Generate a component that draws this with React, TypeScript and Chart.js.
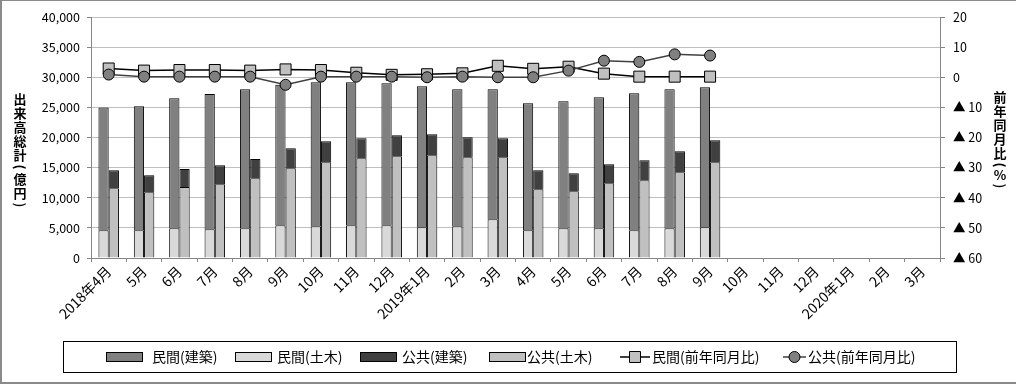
import React, { useEffect, useRef } from 'react';
import { Chart, registerables } from 'chart.js';

Chart.register(...registerables);

const FONT = '"Noto Sans CJK JP", "Noto Sans", sans-serif';

const months = [
  '2018年4月', '5月', '6月', '7月', '8月', '9月', '10月', '11月', '12月',
  '2019年1月', '2月', '3月', '4月', '5月', '6月', '7月', '8月', '9月',
  '10月', '11月', '12月', '2020年1月', '2月', '3月',
];

// 億円
const minkanKenchiku = [20400, 20580, 21570, 22460, 23070, 23350, 23900, 23740, 23580, 23410, 22740, 21580, 21080, 21080, 21750, 22740, 23070, 23250];
const minkanDoboku = [4600, 4600, 4930, 4760, 4930, 5420, 5260, 5420, 5420, 5090, 5260, 6420, 4600, 4930, 4930, 4600, 4930, 5090];
const kokyoKenchiku = [2990, 2820, 2980, 3150, 3210, 3320, 3490, 3330, 3490, 3480, 3320, 3160, 3160, 2990, 3150, 3310, 3480, 3660];
const kokyoDoboku = [11570, 10900, 11790, 12230, 13220, 14890, 15880, 16540, 16880, 17050, 16710, 16710, 11400, 11070, 12400, 12900, 14230, 15880];

// 前年同月比 (%)
const minkanYoY = [2.9, 2.2, 2.4, 2.4, 2.2, 2.6, 2.4, 1.5, 0.8, 1.0, 1.3, 3.8, 2.8, 3.5, 1.2, 0.2, 0.2, 0.2];
const kokyoYoY = [0.9, 0.2, 0.2, 0.2, 0.2, -2.5, 0.2, 0.2, 0.2, 0.0, 0.2, 0.0, 0.0, 2.2, 5.5, 5.1, 7.6, 7.2];

const leftTicks = [0, 5000, 10000, 15000, 20000, 25000, 30000, 35000, 40000];
const rightTicks = [-60, -50, -40, -30, -20, -10, 0, 10, 20];

const leftTitle = ['出', '来', '高', '総', '計', '(', '億', '円', ')'];
const rightTitle = ['前', '年', '同', '月', '比', '(', '%', ')'];

const GRID = '#bfbfbf';
const AXIS = '#868686';

const framePlugin = {
  id: 'frame',
  beforeDraw(chart: any) {
    const { ctx, width, height } = chart;
    ctx.save();
    ctx.fillStyle = '#fff';
    ctx.fillRect(0, 0, width, height);
    ctx.fillStyle = '#8a8a8a';
    ctx.fillRect(0, 0, width, 1);
    ctx.fillRect(0, 0, 2, height);
    ctx.fillRect(0, height - 2, width, 2);
    ctx.restore();
  },
};

function drawVertical(ctx: CanvasRenderingContext2D, chars: string[], x: number, y0: number) {
  const size = (c: string) => (c === '(' || c === ')' ? 10 : c === '%' ? 11 : 14);
  let y = y0;
  chars.forEach((c, i) => {
    if (i > 0) y += (size(c) + size(chars[i - 1])) / 2;
    if (c === '(' || c === ')') {
      ctx.save();
      ctx.translate(x, y);
      ctx.rotate(Math.PI / 2);
      ctx.fillText(c, 0, 0);
      ctx.restore();
    } else {
      ctx.fillText(c, x, y);
    }
  });
}

const titlesPlugin = {
  id: 'vtitles',
  afterDraw(chart: any) {
    const { ctx } = chart;
    ctx.save();
    ctx.fillStyle = '#000';
    ctx.font = `bold 13px ${FONT}`;
    ctx.textAlign = 'center';
    ctx.textBaseline = 'middle';
    drawVertical(ctx, leftTitle, 20, 99);
    drawVertical(ctx, rightTitle, 1000, 97);
    ctx.restore();
  },
};

const legendPlugin = {
  id: 'boxLegend',
  afterDraw(chart: any) {
    const { ctx } = chart;
    const ds = chart.data.datasets;
    const find = (l: string) => ds.find((d: any) => d.label === l);
    const items = [
      { label: '民間(建築)', kind: 'box', x: 106, tx: 152 },
      { label: '民間(土木)', kind: 'box', x: 235, tx: 277 },
      { label: '公共(建築)', kind: 'box', x: 360, tx: 402 },
      { label: '公共(土木)', kind: 'box', x: 489, tx: 527 },
      { label: '民間(前年同月比)', kind: 'line', x: 620, tx: 652 },
      { label: '公共(前年同月比)', kind: 'line', x: 783, tx: 808 },
    ];
    ctx.save();
    ctx.strokeStyle = '#000';
    ctx.lineWidth = 1;
    ctx.strokeRect(63.5, 341.5, 893, 31);
    const cy = 357;
    items.forEach((it) => {
      const d = find(it.label);
      if (it.kind === 'box') {
        ctx.fillStyle = d.backgroundColor;
        ctx.fillRect(it.x + 0.5, 352.5, 36, 9);
        ctx.strokeStyle = '#000';
        ctx.strokeRect(it.x + 0.5, 352.5, 36, 9);
      } else {
        const w = it.tx - it.x - 2;
        ctx.strokeStyle = d.borderColor;
        ctx.lineWidth = 1.5;
        ctx.beginPath();
        ctx.moveTo(it.x, cy);
        ctx.lineTo(it.x + w, cy);
        ctx.stroke();
        ctx.lineWidth = 1;
        ctx.fillStyle = d.pointBackgroundColor;
        ctx.strokeStyle = '#000';
        const mx = it.x + w / 2;
        ctx.beginPath();
        if (d.pointStyle === 'rect') {
          ctx.rect(mx - 5.5, cy - 5.5, 11, 11);
        } else {
          ctx.arc(mx, cy, 5.5, 0, Math.PI * 2);
        }
        ctx.fill();
        ctx.stroke();
      }
      ctx.fillStyle = '#000';
      ctx.font = `14px ${FONT}`;
      ctx.textAlign = 'left';
      ctx.textBaseline = 'middle';
      ctx.fillText(it.label, it.tx, cy);
    });
    ctx.restore();
  },
};

export default function App() {
  const ref = useRef<HTMLCanvasElement>(null);

  useEffect(() => {
    document.body.style.margin = '0';
    const canvas = ref.current!;
    const chart = new Chart(canvas, {
      type: 'bar',
      data: {
        labels: months,
        datasets: [
          {
            type: 'line',
            label: '公共(前年同月比)',
            data: kokyoYoY,
            yAxisID: 'y2',
            order: 0,
            borderColor: '#404040',
            borderWidth: 1.5,
            pointStyle: 'circle',
            pointRadius: 5.5,
            pointBackgroundColor: '#808080',
            pointBorderColor: '#000',
            pointBorderWidth: 1,
            tension: 0,
          } as any,
          {
            type: 'line',
            label: '民間(前年同月比)',
            data: minkanYoY,
            yAxisID: 'y2',
            order: 0,
            borderColor: '#000',
            borderWidth: 1.5,
            pointStyle: 'rect',
            pointRadius: 7.8,
            pointBackgroundColor: '#c0c0c0',
            pointBorderColor: '#000',
            pointBorderWidth: 1,
            tension: 0,
          } as any,
          {
            label: '民間(土木)',
            data: minkanDoboku,
            stack: 'minkan',
            yAxisID: 'y',
            order: 1,
            backgroundColor: '#d9d9d9',
            borderColor: '#000',
            borderWidth: 1,
          },
          {
            label: '民間(建築)',
            data: minkanKenchiku,
            stack: 'minkan',
            yAxisID: 'y',
            order: 1,
            backgroundColor: '#808080',
            borderColor: '#000',
            borderWidth: 1,
          },
          {
            label: '公共(土木)',
            data: kokyoDoboku,
            stack: 'kokyo',
            yAxisID: 'y',
            order: 1,
            backgroundColor: '#c0c0c0',
            borderColor: '#000',
            borderWidth: 1,
          },
          {
            label: '公共(建築)',
            data: kokyoKenchiku,
            stack: 'kokyo',
            yAxisID: 'y',
            order: 1,
            backgroundColor: '#404040',
            borderColor: '#000',
            borderWidth: 1,
          },
        ],
      },
      options: {
        responsive: false,
        animation: false,
        events: [],
        layout: { padding: { top: 17, left: 0, right: 0, bottom: 0 } },
        datasets: {
          bar: { categoryPercentage: 0.58, barPercentage: 1.0 },
        },
        plugins: {
          legend: { display: false },
          tooltip: { enabled: false },
          title: { display: false },
        },
        scales: {
          x: {
            type: 'category',
            offset: true,
            stacked: true,
            grid: {
              offset: true,
              drawOnChartArea: false,
              drawTicks: true,
              tickLength: 4,
              color: AXIS,
            },
            border: { color: AXIS },
            ticks: {
              autoSkip: false,
              minRotation: 45,
              maxRotation: 45,
              padding: 1,
              color: '#000',
              font: { family: FONT, size: 14 },
            },
            afterFit(scale: any) {
              scale.height = 384 - 258;
            },
          },
          y: {
            position: 'left',
            stacked: true,
            min: 0,
            max: 40000,
            afterBuildTicks(scale: any) {
              scale.ticks = leftTicks.map((v) => ({ value: v }));
            },
            grid: { color: GRID, tickColor: AXIS, tickLength: 4 },
            border: { color: AXIS },
            ticks: {
              padding: 7,
              color: '#000',
              font: { family: FONT, size: 12.5 },
              callback: (v: any) => Number(v).toLocaleString('en-US'),
            },
            afterFit(scale: any) {
              scale.width = 91;
            },
          },
          y2: {
            position: 'right',
            min: -60,
            max: 20,
            afterBuildTicks(scale: any) {
              scale.ticks = rightTicks.map((v) => ({ value: v }));
            },
            grid: { drawOnChartArea: false, tickColor: AXIS, tickLength: 5 },
            border: { color: AXIS },
            ticks: {
              padding: 8,
              color: '#000',
              font: { family: FONT, size: 12.5 },
              callback: (v: any) => (Number(v) < 0 ? `▲ ${-Number(v)}` : String(v)),
            },
            afterFit(scale: any) {
              scale.width = 1016 - 940;
            },
          },
        },
      } as any,
      plugins: [framePlugin, titlesPlugin, legendPlugin],
    });
    return () => chart.destroy();
  }, []);

  return (
    <div style={{ width: 1016, height: 384 }}>
      <canvas ref={ref} width={1016} height={384} style={{ display: 'block' }} />
    </div>
  );
}
